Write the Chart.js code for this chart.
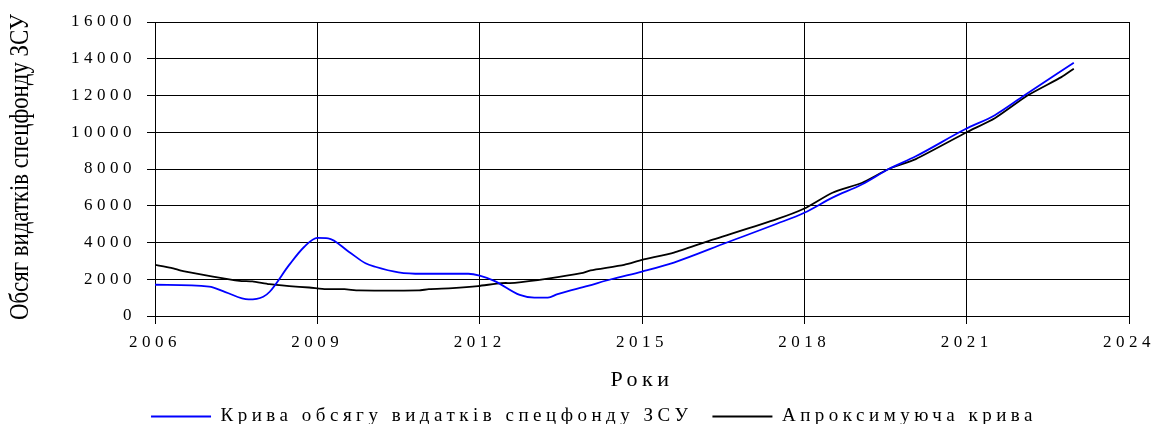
<!DOCTYPE html>
<html>
<head>
<meta charset="utf-8">
<script src="https://cdn.jsdelivr.net/npm/chart.js@4.4.0/dist/chart.umd.min.js"></script>
<style>
  html, body { margin: 0; padding: 0; background: #fff; }
  #wrap { width: 1163px; height: 424px; }
</style>
</head>
<body>
<div id="wrap"><canvas id="chart" width="1163" height="424"></canvas></div>
<script>
// chart data
const fundYears = [2006.0, 2007.0, 2007.3, 2007.73, 2008.0, 2008.12, 2008.48, 2008.76, 2009.0, 2009.2,
  2009.58, 2009.89, 2010.07, 2010.5, 2010.93, 2011.79, 2012.0, 2012.28, 2012.74, 2013.01,
  2013.26, 2013.44, 2014.0, 2014.43, 2015.0, 2015.59, 2016.57, 2017.49, 2018.0, 2018.52,
  2019.07, 2019.56, 2020.06, 2020.97, 2021.52, 2022.07, 2022.98];
const fundValues = [1700, 1600, 1300, 900, 1050, 1320, 2780, 3770, 4250, 4230,
  3500, 2870, 2680, 2380, 2300, 2300, 2200, 1900, 1150, 1000,
  1000, 1190, 1640, 2000, 2420, 2910, 4000, 5020, 5620, 6440,
  7170, 8000, 8690, 10160, 10930, 12010, 13780];

const approxYears = [2006.0, 2006.3, 2006.52, 2007.07, 2007.56, 2007.8, 2008.11, 2008.48, 2008.85, 2009.16,
  2009.5, 2009.77, 2010.87, 2011.06, 2011.5, 2011.97, 2012.4, 2012.65, 2013.26, 2013.88,
  2014.05, 2014.67, 2015.0, 2015.59, 2016.2, 2017.49, 2018.0, 2018.52, 2019.07, 2019.56,
  2020.06, 2021.0, 2021.52, 2022.13, 2022.75, 2022.98];
const approxValues = [2780, 2620, 2440, 2140, 1910, 1880, 1730, 1630, 1550, 1460,
  1460, 1390, 1390, 1460, 1520, 1630, 1790, 1800, 2030, 2330,
  2480, 2780, 3050, 3450, 4050, 5270, 5850, 6710, 7250, 8000,
  8540, 10000, 10760, 12010, 13000, 13460];

const xMin = 2006, xMax = 2024, xStep = 3;
const yMin = 0, yMax = 16000, yStep = 2000;

const fundLabel = 'Крива обсягу видатків спецфонду ЗСУ';
const approxLabel = 'Апроксимуюча крива';
const xTitle = 'Роки';
const yTitle = 'Обсяг видатків спецфонду ЗСУ';

const serif = '"Liberation Serif", "Times New Roman", serif';
const spread = '4.5px';

function toPoints(xs, ys) {
  return xs.map((x, i) => ({ x: x, y: ys[i] }));
}

// wide letter spacing for all chart text, squeezed rotated y title
const textPlugin = {
  id: 'textPlugin',
  beforeInit(chart) { chart.ctx.letterSpacing = spread; },
  beforeLayout(chart) { chart.ctx.letterSpacing = spread; },
  beforeDraw(chart) { chart.ctx.letterSpacing = spread; },
  afterDraw(chart) {
    const ctx = chart.ctx;
    ctx.save();
    ctx.letterSpacing = '0px';
    ctx.font = '27px ' + serif;
    ctx.fillStyle = '#000';
    ctx.translate(21, 167);
    ctx.rotate(-Math.PI / 2);
    ctx.textAlign = 'center';
    ctx.textBaseline = 'middle';
    ctx.fillText(yTitle, 0, 0, 306);
    ctx.restore();
  }
};

new Chart(document.getElementById('chart'), {
  type: 'line',
  data: {
    datasets: [
      {
        label: fundLabel,
        data: toPoints(fundYears, fundValues),
        borderColor: '#0000ff',
        backgroundColor: '#0000ff',
        borderWidth: 1.8,
        pointRadius: 0,
        cubicInterpolationMode: 'monotone',
        fill: false
      },
      {
        label: approxLabel,
        data: toPoints(approxYears, approxValues),
        borderColor: '#000000',
        backgroundColor: '#000000',
        borderWidth: 1.8,
        pointRadius: 0,
        tension: 0.2,
        fill: false
      }
    ]
  },
  options: {
    responsive: false,
    animation: false,
    layout: {
      padding: { left: 54, right: 29, top: 22, bottom: -12 }
    },
    plugins: {
      tooltip: { enabled: false },
      legend: {
        position: 'bottom',
        labels: {
          usePointStyle: true,
          pointStyle: 'line',
          pointStyleWidth: 60,
          padding: 20,
          color: '#000',
          font: { family: serif, size: 19 }
        }
      }
    },
    scales: {
      x: {
        type: 'linear',
        min: xMin,
        max: xMax,
        afterFit(scale) { scale.height = 71; },
        ticks: {
          stepSize: xStep,
          padding: 8,
          color: '#000',
          font: { family: serif, size: 17 },
          maxRotation: 0,
          callback: v => String(v)
        },
        grid: { color: '#000', lineWidth: 1, tickLength: 8, tickColor: '#000' },
        border: { color: '#000', width: 1 },
        title: {
          display: true,
          text: xTitle,
          color: '#000',
          font: { family: serif, size: 22 },
          padding: { top: 0, bottom: -6 }
        }
      },
      y: {
        min: yMin,
        max: yMax,
        afterFit(scale) { scale.width = 101; },
        ticks: {
          stepSize: yStep,
          padding: 11,
          color: '#000',
          font: { family: serif, size: 17 },
          callback: v => String(v)
        },
        grid: { color: '#000', lineWidth: 1, tickLength: 8, tickColor: '#000' },
        border: { color: '#000', width: 1 }
      }
    }
  },
  plugins: [textPlugin]
});
</script>
</body>
</html>
